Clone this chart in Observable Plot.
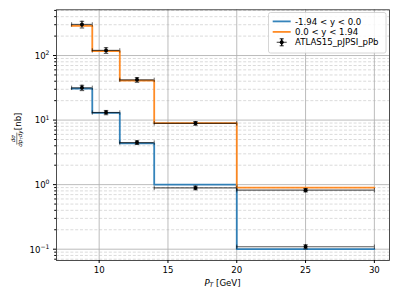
<!DOCTYPE html>
<html>
<head>
<meta charset="utf-8">
<script src="https://cdn.jsdelivr.net/npm/d3@7"></script>
<script src="https://cdn.jsdelivr.net/npm/@observablehq/plot@0.6"></script>
<style>
  html, body { margin: 0; padding: 0; background: white; }
  svg { display: block; }
</style>
</head>
<body>
<script>
// ---- data ----
const binEdges = [8, 9.5, 11.5, 14, 20, 30];
const binCenters = [8.75, 10.5, 12.75, 17, 25];
const seriesNames = ["-1.94 < y < 0.0", "0.0 < y < 1.94"];
const seriesColors = ["#1f77b4", "#ff7f0e"];
const predBlue = [30.8, 12.9, 4.37, 1.0, 0.100];
const predOrange = [288, 117, 41, 9.0, 0.90];
const dataBlue = [31.6, 13.1, 4.48, 0.89, 0.109];
const errBlue = [3.0, 1.0, 0.3, 0.06, 0.008];
const dataOrange = [303, 120, 42, 8.9, 0.82];
const errOrange = [36, 12, 3.5, 0.6, 0.05];
const dataLabel = "ATLAS15_pJPSI_pPb";
const xTicks = [10, 15, 20, 25, 30];
const yMajor = [0.1, 1, 10, 100];
const yMajorExp = ["\u22121", "0", "1", "2"];
const yMinor = [0.07, 0.08, 0.09, 0.2, 0.3, 0.4, 0.5, 0.6, 0.7, 0.8, 0.9,
                2, 3, 4, 5, 6, 7, 8, 9, 20, 30, 40, 50, 60, 70, 80, 90,
                200, 300, 400, 500];

// ---- tables ----
const stepTable = (vals) => binEdges.map((e, i) => ({x: e, y: vals[Math.min(i, vals.length - 1)]}));
const blueSteps = stepTable(predBlue);
const orangeSteps = stepTable(predOrange);
const errRows = [];
[[dataBlue, errBlue], [dataOrange, errOrange]].forEach(([vals, errs]) => {
  vals.forEach((v, i) => errRows.push({c: binCenters[i], lo: binEdges[i], hi: binEdges[i + 1], v, e: errs[i]}));
});
const hCaps = errRows.flatMap(d => [{x: d.lo, y: d.v}, {x: d.hi, y: d.v}]);
const vCaps = errRows.flatMap(d => [{x: d.c, y: d.v - d.e}, {x: d.c, y: d.v + d.e}]);

const vbar = {draw(ctx, size) { const r = Math.sqrt(size / Math.PI); ctx.moveTo(0, -r); ctx.lineTo(0, r); }};
const hbar = {draw(ctx, size) { const r = Math.sqrt(size / Math.PI); ctx.moveTo(-r, 0); ctx.lineTo(r, 0); }};

const ebColor = "#000";
const plot = Plot.plot({
  width: 399, height: 299,
  marginLeft: 56, marginRight: 10, marginTop: 9.3, marginBottom: 39,
  style: {fontFamily: "DejaVu Sans", fontSize: "8.6px", color: "black", background: "white", overflow: "visible"},
  x: {domain: [6.9, 31.1]},
  y: {type: "log", domain: [0.0668, 511]},
  marks: [
    Plot.gridY(yMinor, {stroke: "#b0b0b0", strokeOpacity: 0.65, strokeWidth: 0.7, strokeDasharray: "3,1.8"}),
    Plot.gridY(yMajor, {stroke: "#b0b0b0", strokeOpacity: 0.85, strokeWidth: 1}),
    Plot.gridX(xTicks, {stroke: "#b0b0b0", strokeOpacity: 0.85, strokeWidth: 1}),
    Plot.line(blueSteps, {x: "x", y: "y", curve: "step-after", stroke: seriesColors[0], strokeWidth: 1.8, strokeOpacity: 0.9}),
    Plot.line(orangeSteps, {x: "x", y: "y", curve: "step-after", stroke: seriesColors[1], strokeWidth: 1.8, strokeOpacity: 0.9}),
    Plot.ruleY(errRows, {y: "v", x1: "lo", x2: "hi", stroke: ebColor, strokeOpacity: 0.65, strokeWidth: 1.2}),
    Plot.ruleX(errRows, {x: "c", y1: d => d.v - d.e, y2: d => d.v + d.e, stroke: ebColor, strokeOpacity: 0.8, strokeWidth: 1.4}),
    Plot.dot(hCaps, {x: "x", y: "y", symbol: vbar, r: 2.2, stroke: ebColor, strokeOpacity: 0.65, strokeWidth: 0.9}),
    Plot.dot(vCaps, {x: "x", y: "y", symbol: hbar, r: 2.2, stroke: ebColor, strokeOpacity: 0.8, strokeWidth: 0.9}),
    Plot.dot(errRows, {x: "c", y: "v", r: 2, fill: "black", stroke: "none"}),
    Plot.frame({stroke: "#222", strokeWidth: 0.8}),
    Plot.axisX(xTicks, {tickSize: 3, tickPadding: 3.5, label: null, tickFormat: d => String(d)}),
    Plot.axisY(yMajor, {tickSize: 3, tickFormat: () => "", label: null}),
    Plot.axisY(yMinor, {tickSize: 1.8, tickFormat: () => "", label: null})
  ]
});
document.body.appendChild(plot);

// ---- text additions positioned with the library's scales ----
const svg = d3.select(plot);
const ys = plot.scale("y");
const xs = plot.scale("x");
const FONT = "DejaVu Sans";

// y tick labels 10^k
yMajor.forEach((v, i) => {
  const y = ys.apply(v);
  const t = svg.append("text").attr("x", 49.5).attr("y", y + 3.9)
    .attr("text-anchor", "end").attr("font-family", FONT).attr("font-size", 8.6).attr("fill", "black");
  t.append("tspan").text("10");
  t.append("tspan").attr("font-size", 6.1).attr("dy", -3.6).text(yMajorExp[i]);
});

// x label: P_T [GeV]
const xc = (xs.apply(6.9) + xs.apply(31.1)) / 2;
const xl = svg.append("text").attr("x", xc).attr("y", 285.5).attr("text-anchor", "middle")
  .attr("font-family", FONT).attr("font-size", 8.6).attr("fill", "black");
xl.append("tspan").attr("font-style", "italic").text("P");
xl.append("tspan").attr("font-style", "italic").attr("font-size", 6.1).attr("dy", 1.6).text("T");
xl.append("tspan").attr("dy", -1.6).text(" [GeV]");

// y label: dσ/(dp_T dy) [nb]
const yc = (ys.apply(0.0668) + ys.apply(511)) / 2;
const g = svg.append("g").attr("transform", `translate(18,${yc - 3}) rotate(-90)`)
  .attr("font-family", FONT).attr("fill", "black");
g.append("text").attr("x", -7).attr("y", -2.6).attr("text-anchor", "middle").attr("font-size", 5.6)
  .attr("font-style", "italic").text("d\u03c3");
g.append("line").attr("x1", -13).attr("x2", -1).attr("y1", -1.2).attr("y2", -1.2).attr("stroke", "black").attr("stroke-width", 0.5);
const den = g.append("text").attr("x", -7).attr("y", 4.2).attr("text-anchor", "middle").attr("font-size", 5.6).attr("font-style", "italic");
den.append("tspan").text("dp");
den.append("tspan").attr("font-size", 4).attr("dy", 1).text("T");
den.append("tspan").attr("dy", -1).text("dy");
g.append("text").attr("x", 1.5).attr("y", 3).attr("text-anchor", "start").attr("font-size", 8.6).text("[nb]");

// legend
const L = svg.append("g").attr("font-family", FONT).attr("font-size", 8.6).attr("text-anchor", "start");
L.append("rect").attr("x", 268.5).attr("y", 12.5).attr("width", 117.5).attr("height", 40.5).attr("rx", 2)
  .attr("fill", "white").attr("fill-opacity", 0.85).attr("stroke", "#cccccc").attr("stroke-width", 0.8);
const rows = [21.4, 31.9, 42.3];
seriesNames.forEach((name, i) => {
  L.append("line").attr("x1", 272.7).attr("x2", 290.7).attr("y1", rows[i]).attr("y2", rows[i])
    .attr("stroke", seriesColors[i]).attr("stroke-width", 1.8).attr("stroke-opacity", 0.9);
  L.append("text").attr("x", 295).attr("y", rows[i] + 3.1).attr("text-anchor", "start").attr("fill", "black").text(name);
});
const ex = 281.7, ey = rows[2];
L.append("line").attr("x1", ex - 5).attr("x2", ex + 5).attr("y1", ey).attr("y2", ey).attr("stroke", "black").attr("stroke-opacity", 0.65).attr("stroke-width", 1.2);
L.append("line").attr("x1", ex).attr("x2", ex).attr("y1", ey - 3.5).attr("y2", ey + 3.5).attr("stroke", "black").attr("stroke-width", 1.4);
L.append("line").attr("x1", ex - 2).attr("x2", ex + 2).attr("y1", ey - 3.5).attr("y2", ey - 3.5).attr("stroke", "black").attr("stroke-width", 0.9);
L.append("line").attr("x1", ex - 2).attr("x2", ex + 2).attr("y1", ey + 3.5).attr("y2", ey + 3.5).attr("stroke", "black").attr("stroke-width", 0.9);
L.append("circle").attr("cx", ex).attr("cy", ey).attr("r", 2).attr("fill", "black");
L.append("text").attr("x", 295).attr("y", ey + 3.1).attr("text-anchor", "start").attr("fill", "black").text(dataLabel);
</script>
</body>
</html>
